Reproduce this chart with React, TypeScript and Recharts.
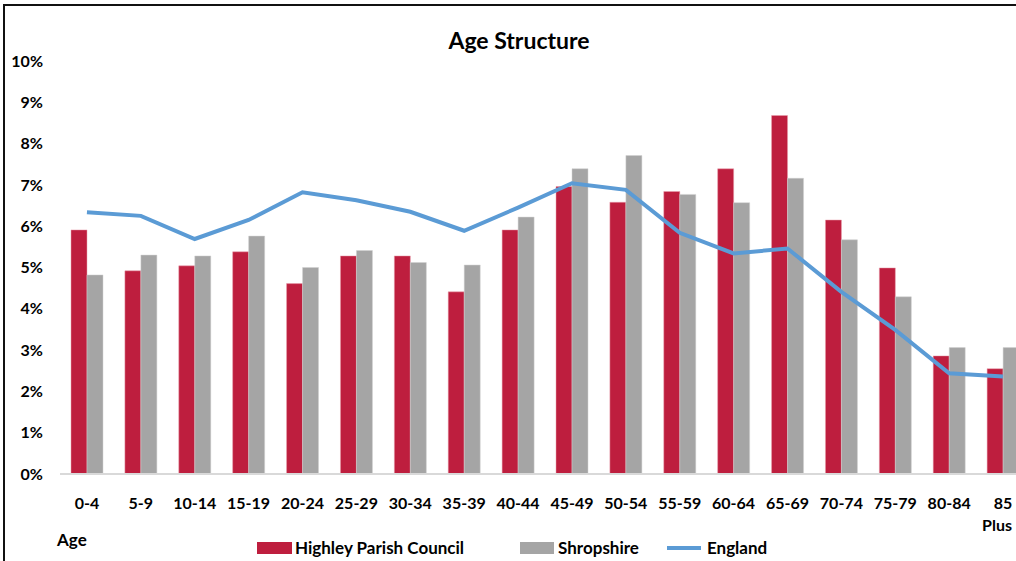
import React from 'react';
import { ComposedChart, Bar, Line, XAxis, YAxis } from 'recharts';

const categories = ['0-4', '5-9', '10-14', '15-19', '20-24', '25-29', '30-34', '35-39', '40-44', '45-49', '50-54', '55-59', '60-64', '65-69', '70-74', '75-79', '80-84', '85 Plus'];
const highley = [5.91, 4.92, 5.04, 5.38, 4.61, 5.28, 5.28, 4.41, 5.91, 6.96, 6.58, 6.84, 7.39, 8.68, 6.15, 4.99, 2.86, 2.55];
const shropshire = [4.82, 5.30, 5.28, 5.76, 5.00, 5.41, 5.12, 5.06, 6.22, 7.39, 7.71, 6.77, 6.57, 7.16, 5.67, 4.29, 3.06, 3.06];
const england = [6.34, 6.25, 5.69, 6.15, 6.82, 6.63, 6.35, 5.89, 6.45, 7.04, 6.88, 5.84, 5.34, 5.46, 4.41, 3.49, 2.44, 2.36];
const yTicks = [0, 1, 2, 3, 4, 5, 6, 7, 8, 9, 10];

const RED = '#BE1E3E';
const GRAY = '#A5A5A5';
const BLUE = '#5B9BD5';
const FONT = 'Lato, "Open Sans", sans-serif';

const data = categories.map((c, i) => ({
  age: c,
  highley: highley[i],
  shropshire: shropshire[i],
  england: england[i],
}));

const XTick = (props: any) => {
  const { x, y, payload } = props;
  const parts = String(payload.value).split(' ');
  return (
    <text x={x} y={y} textAnchor="middle" fill="#000" fontSize={16} fontWeight={700} fontFamily={FONT}>
      {parts.map((p, i) => (
        <tspan key={i} x={i === 0 ? x : x - 6} dy={i === 0 ? 35 : 22}>{p}</tspan>
      ))}
    </text>
  );
};

export default function App() {
  return (
    <div style={{ position: 'absolute', left: 0, top: 0, width: 1016, height: 561, overflow: 'hidden', background: '#fff', fontFamily: FONT }}>
      <div style={{ position: 'absolute', left: 3, top: 4, width: 1100, height: 600, borderLeft: '2px solid #111', borderTop: '2px solid #111' }} />
      <div style={{ position: 'absolute', left: 0, top: 0 }}>
        <ComposedChart
          width={1040}
          height={561}
          data={data}
          margin={{ top: 61, right: 10, left: 0, bottom: 47 }}
          barGap={0}
          barCategoryGap={11}
        >
          <XAxis
            dataKey="age"
            height={40}
            interval={0}
            tickLine={false}
            tickSize={0}
            tickMargin={0}
            axisLine={{ stroke: '#D9D9D9', strokeWidth: 2 }}
            tick={<XTick />}
          />
          <YAxis
            width={60}
            domain={[0, 10]}
            ticks={yTicks}
            interval={0}
            axisLine={false}
            tickLine={false}
            tickSize={0}
            tickMargin={17}
            tickFormatter={(v: number) => `${v}%`}
            tick={{ fill: '#000', fontSize: 16, fontWeight: 700, fontFamily: FONT }}
          />
          <Bar dataKey="highley" fill={RED} stroke="#e9a0ae" strokeWidth={0.5} isAnimationActive={false} />
          <Bar dataKey="shropshire" fill={GRAY} stroke="#d0d0d0" strokeWidth={0.5} isAnimationActive={false} />
          <Line dataKey="england" stroke={BLUE} strokeWidth={4} dot={false} activeDot={false} type="linear" isAnimationActive={false} />
        </ComposedChart>
      </div>
      <div style={{ position: 'absolute', left: 0, width: 1038, top: 26, textAlign: 'center', fontSize: 23, fontWeight: 700, color: '#000' }}>
        Age Structure
      </div>
      <div style={{ position: 'absolute', left: 57, top: 529, fontSize: 17, fontWeight: 700, color: '#000' }}>Age</div>
      <div style={{ position: 'absolute', left: 257, top: 538, display: 'flex', alignItems: 'center', fontSize: 17, fontWeight: 700, color: '#000', lineHeight: '20px' }}>
        <span style={{ display: 'inline-block', width: 35, height: 12, background: RED, marginRight: 3 }} />
        <span style={{ marginRight: 56 }}>Highley Parish Council</span>
        <span style={{ display: 'inline-block', width: 34, height: 12, background: GRAY, marginRight: 4 }} />
        <span style={{ marginRight: 28 }}>Shropshire</span>
        <span style={{ display: 'inline-block', width: 34, height: 4, background: BLUE, marginRight: 6 }} />
        <span>England</span>
      </div>
    </div>
  );
}
